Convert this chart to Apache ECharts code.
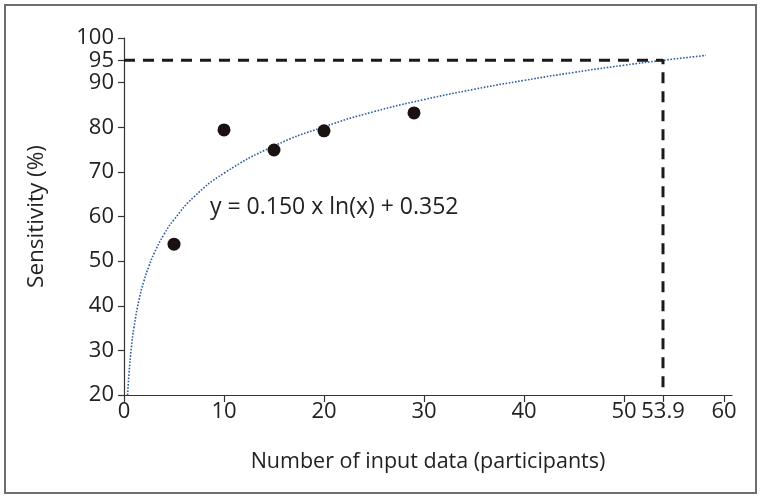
<!DOCTYPE html>
<html>
<head>
<meta charset="utf-8">
<script src="https://cdn.jsdelivr.net/npm/echarts@6/dist/echarts.min.js"></script>
<style>
html,body{margin:0;padding:0;background:#fff;}
#c{width:761px;height:498px;}
</style>
</head>
<body>
<div id="c"></div>
<script>
// Observed data points (participants, sensitivity %)
var pointsX = [5, 10, 15, 20, 29];
var pointsY = [53.8, 79.4, 74.9, 79.2, 83.2];

// Fitted trend curve (x, sensitivity %)
var curveX = [0.36, 0.5, 0.75, 1, 1.5, 2, 2.5, 3, 4, 5, 7, 10, 15, 20, 25, 30, 35, 40, 45, 50, 53.9, 58.2];
var curveY = [20, 24.8, 30.9, 35.2, 41.3, 45.6, 48.9, 51.7, 56.0, 59.3, 64.4, 69.7, 75.8, 80.1, 83.5, 86.2, 88.5, 90.5, 92.3, 93.9, 95.0, 96.1];

// Reference cut-off
var cutX = 53.9;
var cutY = 95;

// Tick labels
var xTicks = [0, 10, 20, 30, 40, 50, 53.9, 60];
var yTicks = [20, 30, 40, 50, 60, 70, 80, 90, 95, 100];

var equationText = 'y = 0.150 x ln(x) + 0.352';
var equationAt = [8.6, 62.1];

var FONT = 'Open Sans';
var chart = echarts.init(document.getElementById('c'), null, {renderer: 'canvas'});

var scatterData = pointsX.map(function (x, i) { return [x, pointsY[i]]; });
var curveData = curveX.map(function (x, i) { return [x, curveY[i]]; });
var cutData = [[0, cutY], [cutX, cutY], [cutX, 20]];

chart.setOption({
  backgroundColor: '#fff',
  animation: false,
  graphic: [{
    type: 'rect',
    shape: {x: 5, y: 5, width: 751, height: 488},
    style: {fill: 'none', stroke: '#6e6e6e', lineWidth: 2},
    z: -1
  }],
  grid: {left: 124, right: 29, top: 38, bottom: 103, containLabel: false},
  xAxis: {
    type: 'value',
    min: 0,
    max: 60.8,
    name: 'Number of input data (participants)',
    nameLocation: 'middle',
    nameGap: 56,
    nameTextStyle: {fontFamily: FONT, fontSize: 21.5, color: '#222'},
    splitLine: {show: false},
    axisLine: {show: true, lineStyle: {color: '#333', width: 1.2}},
    axisTick: {show: true, customValues: xTicks, length: 7, lineStyle: {color: '#333', width: 1.2}},
    axisLabel: {
      customValues: xTicks,
      hideOverlap: false,
      fontFamily: FONT, fontSize: 22, color: '#222', margin: 6,
      formatter: function (v) { return String(v); }
    }
  },
  yAxis: {
    type: 'value',
    min: 20,
    max: 100,
    name: 'Sensitivity (%)',
    nameLocation: 'middle',
    nameGap: 76,
    nameTextStyle: {fontFamily: FONT, fontSize: 22.5, color: '#222'},
    splitLine: {show: false},
    axisLine: {show: true, lineStyle: {color: '#333', width: 1.2}},
    axisTick: {show: true, customValues: yTicks, length: 6, lineStyle: {color: '#333', width: 1.2}},
    axisLabel: {
      customValues: yTicks,
      hideOverlap: false,
      fontFamily: FONT, fontSize: 22, color: '#222', margin: 10
    }
  },
  series: [
    {
      type: 'line',
      data: curveData,
      smooth: true,
      showSymbol: false,
      symbol: 'none',
      lineStyle: {color: '#2f5f9e', width: 1.6, type: 'dotted'},
      z: 2,
      markPoint: {
        symbol: 'circle',
        symbolSize: 0,
        data: [{coord: equationAt}],
        label: {
          show: true,
          position: 'right',
          distance: 0,
          formatter: equationText,
          fontFamily: FONT, fontSize: 23, color: '#222'
        }
      }
    },
    {
      type: 'line',
      data: cutData,
      showSymbol: false,
      symbol: 'none',
      lineStyle: {color: '#1a1a1a', width: 3, type: [11, 8]},
      z: 3
    },
    {
      type: 'scatter',
      data: scatterData,
      symbol: 'circle',
      symbolSize: 13,
      itemStyle: {color: '#1a1111', opacity: 1},
      z: 4
    }
  ]
});
</script>
</body>
</html>
